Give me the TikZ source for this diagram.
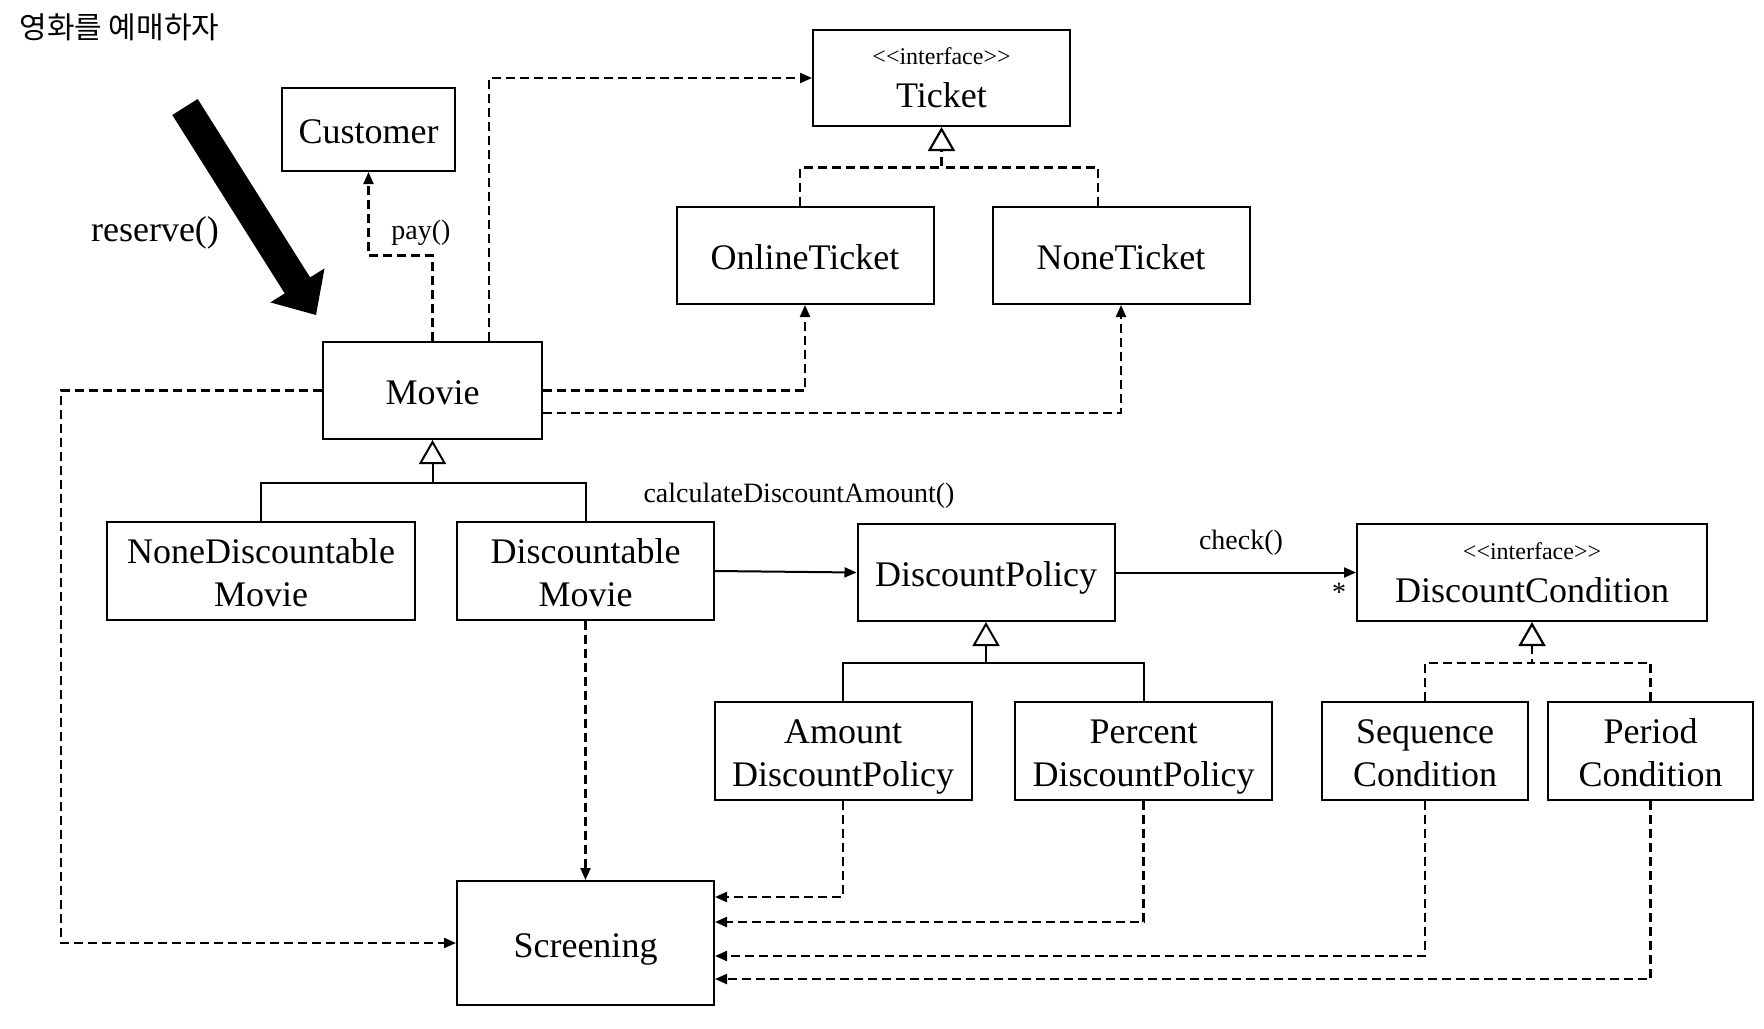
\documentclass[tikz,border=0pt]{standalone}
\usepackage{fontspec}
\setmainfont{Liberation Serif}
\newfontfamily\krfont{Noto Sans CJK KR}
\usetikzlibrary{arrows.meta, positioning}
\newcommand{\ifacetag}{{\fontsize{12}{14}\selectfont <\kern0pt<interface>\kern0pt>}}

\begin{document}
\begin{tikzpicture}[x=0.5pt, y=-0.5pt, font=\fontsize{18}{21.5}\selectfont,
    box/.style={draw, line width=1pt, minimum width=128.5pt, minimum height=48.5pt, align=center, inner sep=0pt},
    cls/.style={box, text height=14.3pt, text depth=0pt},
    cls2/.style={box, minimum height=49pt, text height=38.9pt, text depth=3.5pt},
    iface/.style={box},
    dashline/.style={line width=1.1pt, dash pattern=on 4.5pt off 2.5pt},
    dep/.style={dashline, -{Triangle[length=6pt, width=5pt]}},
    call/.style={line width=1pt, -{Triangle[length=6pt, width=5pt]}},
    gen/.style={line width=1pt, -{Triangle[open, length=12pt, width=13.5pt, fill=white]}},
    real/.style={gen, line width=1.1pt, dash pattern=on 4.5pt off 2.5pt},
    msg/.style={font=\fontsize{14}{16}\selectfont, inner sep=0pt}]
  \useasboundingbox (0,0) rectangle (1764,1028);

  \node[anchor=west, inner sep=0pt, font=\krfont\fontsize{15}{18}\selectfont] (title) at (19,27) {영화를 예매하자};

  % classes
  \node[iface, minimum height=48pt] (ticket) at (941.5,78) {\ifacetag\\Ticket};
  \node[cls, minimum width=86.5pt, minimum height=41.5pt] (customer) at (368.5,129.5) {Customer};
  \node[cls] (onlineticket) at (805,255.5) {OnlineTicket};
  \node[cls] (noneticket) at (1121,255.5) {NoneTicket};
  \node[cls, minimum width=109.5pt] (movie) at (432.5,390.5) {Movie};
  \node[cls2, minimum width=154pt] (nonediscmovie) at (261,571) {NoneDiscountable\\Movie};
  \node[cls2] (discmovie) at (585.5,571) {Discountable\\Movie};
  \node[cls] (policy) at (986,572.5) {DiscountPolicy};
  \node[iface, minimum width=175pt] (condition) at (1532,572.5) {\ifacetag\\DiscountCondition};
  \node[cls2] (amount) at (843,751) {Amount\\DiscountPolicy};
  \node[cls2] (percent) at (1143.5,751) {Percent\\DiscountPolicy};
  \node[cls2, minimum width=103pt] (sequence) at (1425,751) {Sequence\\Condition};
  \node[cls2, minimum width=102.5pt] (period) at (1650.5,751) {Period\\Condition};
  \node[cls, minimum height=62pt] (screening) at (585.5,943) {Screening};

  % reserve() arrow
  \fill (172.3,115) -- (197.7,99) -- (310.1,277.4) -- (324.5,268.4) -- (316,315)
    -- (270.3,302.4) -- (284.7,293.4) -- cycle;
  \node (reservelbl) at (155,233) {reserve()};

  % inheritance
  \path (ticket.south) ++(0,40.5) coordinate (ticketbar);
  \path (movie.south) ++(0,42.5) coordinate (moviebar);
  \path (policy.south) ++(0,41) coordinate (policybar);
  \path (condition.south) ++(0,41) coordinate (conditionbar);
  \draw[real] ([xshift=-2.5pt]onlineticket.north) |- (ticketbar) -- (ticket.south);
  \draw[dashline] ([xshift=-11.5pt]noneticket.north) |- (ticketbar);
  \draw[gen] (nonediscmovie.north) |- (moviebar) -- (movie.south);
  \draw[line width=1pt] (discmovie.north) |- (moviebar);
  \draw[gen] (amount.north) |- (policybar) -- (policy.south);
  \draw[line width=1pt] (percent.north) |- (policybar);
  \draw[real] (sequence.north) |- (conditionbar) -- (condition.south);
  \draw[dashline] (period.north) |- (conditionbar);

  % dependencies
  \coordinate (leftrail) at (61,943);
  \draw[dep] (movie.north) -- ++(0,-85.5) -| (customer.south);
  \node[msg] (paylbl) at (421,232.5) {pay()};
  \draw[dep] ([xshift=28.25pt]movie.north) |- (ticket.west);
  \draw[dep] (movie.east) -| (onlineticket.south);
  \draw[dep] ([yshift=-11.25pt]movie.east) -| (noneticket.south);
  \draw[dep] (movie.west) -| (leftrail) -- (screening.west);
  \draw[dep] (discmovie.south) -- (screening.north);
  \draw[dep] (amount.south) |- ([yshift=23pt]screening.east);
  \draw[dep] (percent.south) |- ([yshift=10.5pt]screening.east);
  \draw[dep] (sequence.south) |- ([yshift=-6.5pt]screening.east);
  \draw[dep] (period.south) |- ([yshift=-18pt]screening.east);

  % messages
  \draw[call] (discmovie.east) -- (policy.west);
  \node[msg] (calclbl) at (799,495.5) {calculateDiscountAmount()};
  \draw[call] (policy.east) -- (condition.west);
  \node[msg] (checklbl) at (1241,542.5) {check()};
  \node[msg] (multlbl) at (1339,592.5) {*};
\end{tikzpicture}
\end{document}
